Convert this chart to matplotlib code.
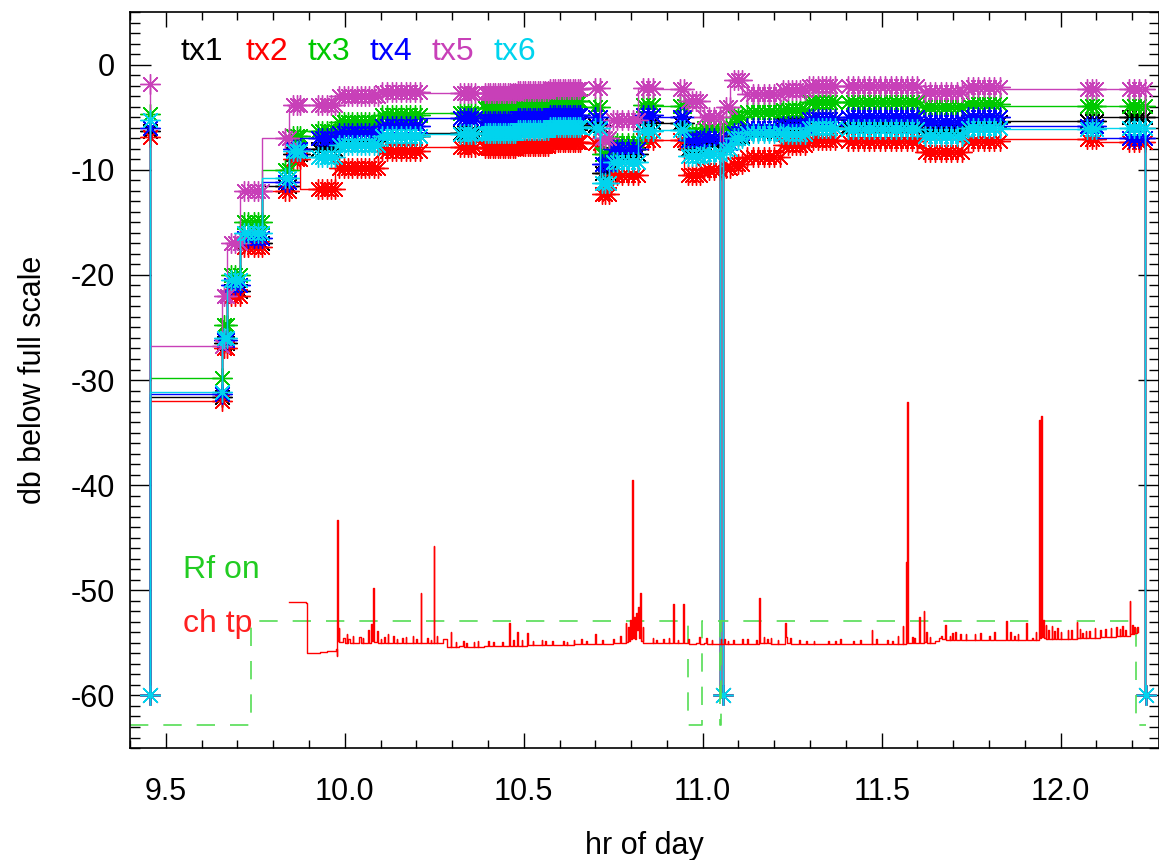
import numpy as np
import matplotlib
matplotlib.use('Agg')
import matplotlib.pyplot as plt

plt.rcParams['font.family'] = ['Liberation Sans', 'DejaVu Sans']
plt.rcParams['axes.unicode_minus'] = False

# tx power levels: sample times grouped in clusters, one level per cluster
seg_hr = [
    [9.456], [9.4565], [9.658], [9.662, 9.672], [9.682, 9.694, 9.706],
    [9.718, 9.730, 9.745, 9.758, 9.768], [9.834, 9.845], [9.856, 9.866, 9.876],
    [9.925, 9.937, 9.949, 9.961, 9.973],
    [9.985, 9.997, 10.009, 10.021, 10.033, 10.045, 10.057, 10.069, 10.081, 10.093],
    [10.105, 10.118, 10.131, 10.144, 10.157, 10.170, 10.183, 10.196, 10.209],
    [10.323, 10.333, 10.343, 10.353, 10.363],
    [10.392, 10.399, 10.406, 10.413, 10.420, 10.427, 10.434, 10.441, 10.448, 10.455, 10.462, 10.469, 10.476],
    [10.483, 10.490, 10.497, 10.504, 10.511, 10.518, 10.525, 10.532, 10.539, 10.546, 10.553, 10.560, 10.567],
    [10.574, 10.581, 10.588, 10.595, 10.602, 10.609, 10.616, 10.623, 10.630, 10.637, 10.644, 10.651, 10.658],
    [10.700, 10.712], [10.718, 10.728, 10.738],
    [10.750, 10.762, 10.775, 10.790, 10.805, 10.820], [10.832, 10.847, 10.862],
    [10.937, 10.948], [10.958, 10.970, 10.982, 10.993], [11.005, 11.018, 11.031, 11.048],
    [11.058], [11.066, 11.076], [11.088, 11.099, 11.110],
    [11.125, 11.140, 11.155, 11.170, 11.185, 11.200, 11.215],
    [11.225, 11.237, 11.249, 11.261, 11.273, 11.285],
    [11.297, 11.309, 11.321, 11.333, 11.345, 11.357, 11.369],
    [11.405, 11.420, 11.435, 11.450, 11.465, 11.480, 11.495, 11.510, 11.525, 11.540, 11.555, 11.570, 11.585, 11.600],
    [11.620, 11.635, 11.650, 11.665, 11.680, 11.695, 11.710, 11.725],
    [11.740, 11.755, 11.770, 11.785, 11.800, 11.815, 11.830],
    [12.074, 12.088, 12.100], [12.190, 12.205, 12.220, 12.235], [12.239],
]
tx1_db = [-6.3, -60, -31.6, -26.5, -21.5, -17.0, -11.5, -8.5, -8.0, -7.3, -6.8, -6.5, -6.0, -5.8, -5.6,
          -5.7, -10.3, -8.5, -5.5, -5.6, -8.0, -7.5, -60, -7.5, -6.8, -6.3, -5.6, -5.2, -5.8, -6.3, -5.5,
          -5.4, -5.0, -60]
tx2_db = [-6.9, -60, -32.0, -27.0, -22.0, -17.3, -12.0, -9.0, -11.8, -9.8, -8.2, -7.8, -7.9, -7.7, -7.4,
          -7.5, -12.3, -10.5, -7.2, -7.2, -10.5, -10.0, -60, -9.8, -9.5, -8.8, -7.6, -7.2, -7.3, -8.3, -7.3,
          -7.1, -7.4, -60]
tx3_db = [-4.7, -60, -29.8, -24.8, -20.0, -15.0, -10.0, -6.8, -6.3, -5.5, -4.8, -4.6, -4.1, -3.8, -3.5,
          -4.0, -8.5, -7.5, -3.8, -3.9, -6.6, -6.0, -60, -6.0, -5.0, -4.5, -4.3, -3.6, -3.6, -4.0, -3.7,
          -3.9, -3.9, -60]
tx4_db = [-6.0, -60, -31.3, -26.2, -21.0, -16.5, -11.2, -8.0, -7.0, -6.5, -5.8, -5.1, -5.4, -5.1, -4.8,
          -5.0, -9.5, -8.0, -4.8, -5.0, -7.2, -7.0, -60, -7.5, -6.5, -6.0, -5.8, -5.2, -5.0, -5.5, -5.0,
          -5.8, -7.0, -60]
tx5_db = [-1.8, -60, -26.8, -22.0, -17.0, -12.0, -7.0, -3.8, -3.8, -3.0, -2.6, -2.7, -2.7, -2.5, -2.3,
          -2.2, -7.0, -5.3, -2.2, -2.3, -3.5, -5.0, -60, -4.0, -1.5, -2.8, -2.4, -2.0, -2.0, -2.6, -2.1,
          -2.3, -2.3, -60]
tx6_db = [-5.3, -60, -31.1, -26.0, -20.5, -16.0, -10.8, -8.2, -8.8, -7.6, -6.8, -6.6, -6.5, -6.2, -5.9,
          -6.0, -11.3, -9.3, -6.3, -6.2, -8.7, -8.5, -60, -8.0, -7.0, -6.5, -6.6, -6.0, -6.1, -6.8, -6.0,
          -6.1, -6.0, -60]

tx_names = ['tx1', 'tx2', 'tx3', 'tx4', 'tx5', 'tx6']
tx_colors = ['black', '#ff0000', '#00c800', '#0000ff', '#c840b8', '#00d4ee']
tx_label_x = [0.049, 0.112, 0.172, 0.233, 0.293, 0.353]

# Rf on (dashed green)
rf_hr = [9.40, 9.737, 10.958, 10.997, 11.048, 11.052, 12.210, 12.238]
rf_db = [-62.8, -52.9, -62.8, -52.9, -62.8, -52.9, -62.8, -62.8]

# ch tp trace (red): baseline and the larger spikes
chtp_hr = [
    9.843, 9.893, 9.894, 9.930, 9.950, 9.975, 9.978, 9.979, 9.980, 9.983, 9.985, 9.995, 10.000, 10.010,
    10.015, 10.030, 10.040, 10.045, 10.060, 10.066, 10.068, 10.074, 10.076, 10.080, 10.082, 10.090, 10.092,
    10.110, 10.112, 10.130, 10.135, 10.137, 10.160, 10.162, 10.180, 10.190, 10.192, 10.210, 10.212, 10.214,
    10.230, 10.232, 10.247, 10.248, 10.250, 10.265, 10.275, 10.285, 10.296, 10.298, 10.320, 10.330, 10.332,
    10.350, 10.360, 10.362, 10.390, 10.400, 10.402, 10.430, 10.440, 10.442, 10.458, 10.459, 10.461, 10.482,
    10.484, 10.510, 10.512, 10.540, 10.560, 10.562, 10.600, 10.620, 10.622, 10.650, 10.660, 10.662, 10.690,
    10.700, 10.702, 10.740, 10.760, 10.782, 10.785, 10.787, 10.792, 10.795, 10.798, 10.800, 10.802, 10.804,
    10.808, 10.810, 10.815, 10.817, 10.820, 10.822, 10.826, 10.828, 10.832, 10.834, 10.850, 10.860, 10.862,
    10.880, 10.890, 10.892, 10.917, 10.918, 10.920, 10.945, 10.946, 10.948, 10.960, 10.962, 10.980, 10.990,
    10.992, 11.005, 11.010, 11.012, 11.040, 11.050, 11.052, 11.070, 11.072, 11.100, 11.110, 11.112, 11.140,
    11.150, 11.152, 11.157, 11.159, 11.170, 11.172, 11.190, 11.192, 11.230, 11.231, 11.233, 11.236, 11.260,
    11.290, 11.292, 11.330, 11.350, 11.352, 11.400, 11.420, 11.422, 11.460, 11.472, 11.474, 11.500, 11.530,
    11.532, 11.555, 11.559, 11.561, 11.567, 11.568, 11.570, 11.571, 11.573, 11.575, 11.590, 11.592, 11.605,
    11.607, 11.617, 11.619, 11.625, 11.627, 11.640, 11.650, 11.660, 11.665, 11.670, 11.677, 11.679, 11.690,
    11.692, 11.705, 11.707, 11.720, 11.722, 11.745, 11.760, 11.762, 11.790, 11.800, 11.802, 11.830, 11.847,
    11.849, 11.870, 11.872, 11.890, 11.903, 11.905, 11.920, 11.922, 11.938, 11.940, 11.942, 11.946, 11.948,
    11.951, 11.953, 11.958, 11.960, 11.970, 11.975, 11.977, 11.990, 11.992, 12.010, 12.020, 12.022, 12.045,
    12.047, 12.060, 12.062, 12.080, 12.082, 12.110, 12.112, 12.140, 12.142, 12.165, 12.167, 12.180, 12.182,
    12.193, 12.195, 12.205, 12.207, 12.214, 12.217,
]
chtp_db = [
    -51.1, -51.2, -56.0, -55.9, -55.8, -55.6, -56.2, -43.3, -54.8, -53.6, -54.9, -54.5, -55.0, -54.6,
    -55.0, -55.0, -54.4, -55.0, -55.0, -53.8, -55.0, -53.2, -54.8, -49.8, -54.9, -53.9, -55.0,
    -54.4, -55.0, -55.0, -54.3, -55.0, -54.5, -55.0, -55.0, -54.3, -55.0, -55.0, -50.3, -55.0,
    -54.5, -55.0, -55.0, -45.8, -55.0, -55.0, -54.6, -55.4, -54.0, -55.4, -55.3, -54.8, -55.4,
    -55.4, -54.9, -55.4, -55.3, -54.8, -55.3, -55.3, -54.9, -55.3, -55.3, -53.1, -55.3, -54.0,
    -55.3, -54.1, -55.2, -55.2, -54.8, -55.2, -55.2, -54.9, -55.2, -55.1, -54.6, -55.1, -55.1,
    -54.2, -55.1, -55.1, -55.0, -55.0, -53.1, -54.9, -53.5, -54.8, -52.8, -54.6, -39.5, -54.5,
    -52.5, -54.6, -52.2, -53.8, -51.6, -54.5, -50.3, -54.8, -53.5, -55.0, -55.0, -54.5, -55.0,
    -55.0, -54.6, -55.0, -55.0, -51.3, -55.0, -55.0, -51.3, -55.0, -54.6, -55.1, -55.0, -54.4,
    -55.1, -55.0, -54.5, -55.1, -55.1, -54.6, -55.1, -54.8, -55.1, -55.1, -54.6, -55.1, -55.1,
    -54.7, -55.1, -50.7, -55.0, -54.4, -55.0, -54.5, -55.1, -55.1, -53.1, -54.4, -55.0, -55.1,
    -54.8, -55.1, -55.1, -54.8, -55.1, -55.1, -54.8, -55.1, -55.1, -53.8, -55.1, -55.1, -54.8,
    -55.1, -55.1, -53.4, -55.1, -55.1, -47.3, -55.0, -32.1, -53.6, -55.0, -54.5, -55.0, -52.5,
    -55.0, -52.0, -54.9, -54.0, -55.0, -55.0, -54.8, -54.5, -54.3, -54.6, -53.3, -54.7, -54.3,
    -54.7, -54.0, -54.7, -54.2, -54.7, -54.7, -54.2, -54.7, -54.7, -54.3, -54.7, -54.7, -52.9,
    -54.7, -54.3, -54.7, -54.7, -53.1, -54.7, -54.5, -54.7, -54.7, -33.8, -54.5, -33.4, -54.4,
    -52.8, -54.5, -53.3, -54.6, -54.6, -53.4, -54.6, -53.6, -54.6, -54.6, -53.8, -54.6, -53.0,
    -54.5, -54.1, -54.5, -53.9, -54.5, -53.8, -54.4, -53.6, -54.4, -53.7, -54.3, -53.8, -54.3,
    -51.0, -54.2, -53.5, -54.1, -53.5, -54.0,
]
# small noise spikes on ch tp: time, peak, level after the spike
grass_hr = [10.005, 10.022, 10.050, 10.100, 10.120, 10.145, 10.170, 10.200, 10.240, 10.257, 10.310,
            10.340, 10.372, 10.415, 10.470, 10.495, 10.525, 10.550, 10.580, 10.610, 10.640, 10.675,
            10.720, 10.750, 10.770, 10.870, 10.905, 10.930, 11.025, 11.060, 11.085, 11.125, 11.180,
            11.210, 11.245, 11.270, 11.310, 11.370, 11.385, 11.440, 11.485, 11.515, 11.545, 11.585,
            11.635, 11.698, 11.735, 11.775, 11.815, 11.860, 11.880, 11.930, 11.965, 11.983, 12.000,
            12.030, 12.053, 12.070, 12.095, 12.125, 12.155, 12.172, 12.200]
grass_peak = [-54.2, -54.3, -54.5, -54.6, -54.2, -54.6, -54.4, -54.6, -54.7, -54.3, -54.9,
              -55.0, -54.8, -54.9, -54.7, -54.7, -54.8, -54.7, -54.8, -54.8, -54.7, -54.8,
              -54.7, -54.6, -54.3, -54.7, -54.5, -54.7, -54.7, -54.6, -54.7, -54.6, -54.6,
              -54.7, -54.5, -54.7, -54.8, -54.8, -54.6, -54.7, -54.6, -54.7, -54.3, -54.4,
              -54.4, -54.1, -54.2, -54.1, -54.0, -54.0, -54.2, -54.0, -53.8, -53.9, -54.0,
              -53.8, -53.7, -53.9, -53.6, -53.7, -53.5, -53.4, -53.3]
grass_base = [-55.0, -55.0, -55.0, -55.0, -55.0, -55.0, -55.0, -55.0, -55.0, -55.0, -55.4,
              -55.4, -55.4, -55.3, -55.3, -55.3, -55.2, -55.2, -55.2, -55.2, -55.1, -55.1,
              -55.1, -55.0, -55.0, -55.0, -55.0, -55.0, -55.1, -55.1, -55.1, -55.1, -55.0,
              -55.1, -55.1, -55.1, -55.1, -55.1, -55.1, -55.1, -55.1, -55.1, -55.1, -55.0,
              -55.0, -54.7, -54.7, -54.7, -54.7, -54.7, -54.7, -54.7, -54.6, -54.6, -54.6,
              -54.6, -54.5, -54.5, -54.5, -54.4, -54.3, -54.3, -54.2]

fig = plt.figure(figsize=(11.59, 8.60), dpi=100)
ax = fig.add_axes([0.1122, 0.1302, 0.8878, 0.8558])

counts = [len(s) for s in seg_hr]
tx_hr = np.concatenate(seg_hr)
star = (8, 2, 0)
for name, col, levels in zip(tx_names, tx_colors,
                             [tx1_db, tx2_db, tx3_db, tx4_db, tx5_db, tx6_db]):
    ax.plot(tx_hr, np.repeat(levels, counts), color=col, lw=1.0, drawstyle='steps-pre',
            marker=star, ms=14.5, mew=1.0, mec=col)

ax.plot(rf_hr, rf_db, color='#55dd55', lw=1.2, drawstyle='steps-post', dashes=(11, 9))

# merge the noise spikes into the ch tp trace
g_hr = np.asarray(grass_hr)
all_hr = np.concatenate([chtp_hr, g_hr, g_hr + 0.0015])
all_db = np.concatenate([chtp_db, grass_peak, grass_base])
order = np.argsort(all_hr, kind='stable')
ax.plot(all_hr[order], all_db[order], color='#ff0000', lw=1.0, drawstyle='steps-post')

for name, col, xx in zip(tx_names, tx_colors, tx_label_x):
    ax.text(xx, 0.935, name, color=col, fontsize=23, transform=ax.transAxes, va='baseline')
ax.text(0.0515, 0.231, 'Rf on', color='#22cc22', fontsize=23, transform=ax.transAxes, va='baseline')
ax.text(0.0515, 0.158, 'ch tp', color='#ff2020', fontsize=23, transform=ax.transAxes, va='baseline')

ax.set_xlim(9.40, 12.275)
ax.set_ylim(-65, 5)
ax.set_xticks(np.arange(9.5, 12.01, 0.5))
ax.set_xticklabels(['9.5', '10.0', '10.5', '11.0', '11.5', '12.0'])
ax.set_xticks(np.arange(9.4, 12.28, 0.1), minor=True)
ax.set_yticks(np.arange(-60, 1, 10))
ax.set_yticks(np.arange(-65, 5.1, 1), minor=True)
ax.tick_params(axis='both', which='both', direction='in', top=True, right=True, labelsize=22)
ax.tick_params(axis='x', which='major', length=10.6, width=1, pad=21)
ax.tick_params(axis='x', which='minor', length=5.5, width=1)
ax.tick_params(axis='y', which='major', length=14.8, width=1, pad=11)
ax.tick_params(axis='y', which='minor', length=7.4, width=1)
for sp in ax.spines.values():
    sp.set_linewidth(1.2)

ax.set_xlabel('hr of day', fontsize=22, labelpad=17)
ax.set_ylabel('db below full scale', fontsize=22, labelpad=16)

fig.savefig('out.png', dpi=100)
